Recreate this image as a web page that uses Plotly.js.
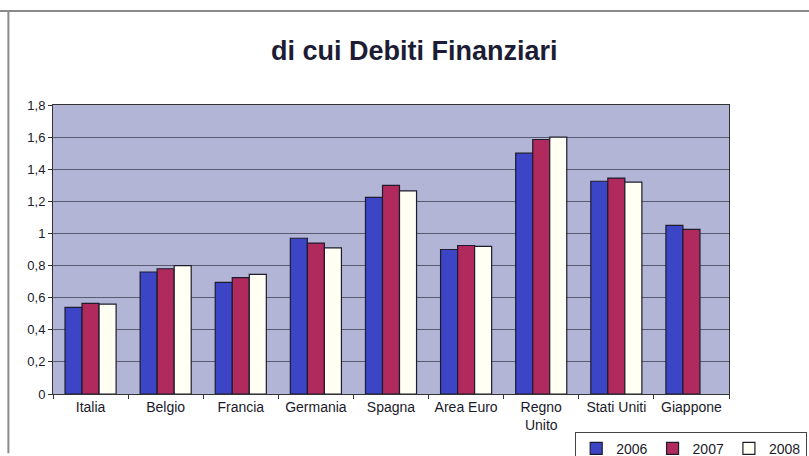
<!DOCTYPE html>
<html>
<head>
<meta charset="utf-8">
<script src="https://cdn.plot.ly/plotly-3.0.1.min.js"></script>
<style>
  body { margin: 0; background: #fff; }
  #chart { width: 809px; height: 456px; }
</style>
</head>
<body>
<div id="chart"></div>
<script>
// categories and values
const paesi = ['Italia', 'Belgio', 'Francia', 'Germania', 'Spagna', 'Area Euro', 'Regno<br>Unito', 'Stati Uniti', 'Giappone'];
const anni = ['2006', '2007', '2008'];
const v2006 = [0.54, 0.76, 0.695, 0.97, 1.225, 0.90, 1.50, 1.325, 1.05];
const v2007 = [0.565, 0.78, 0.725, 0.94, 1.30, 0.925, 1.585, 1.345, 1.025];
const v2008 = [0.56, 0.80, 0.745, 0.91, 1.265, 0.92, 1.60, 1.32, null];

const colori = ['#3b45c6', '#b02a5e', '#fffff4'];
const serie = [v2006, v2007, v2008];

const traces = serie.map((vals, i) => ({
  type: 'bar',
  name: anni[i],
  x: paesi,
  y: vals,
  marker: { color: colori[i], line: { color: '#1c1c2c', width: 1.2 } },
  hoverinfo: 'x+y'
}));

// outer frame of the original slide chart
const frame = { color: '#8a8a8a', width: 2 };

const layout = {
  width: 809,
  height: 456,
  margin: { l: 53, r: 80, t: 105, b: 62, autoexpand: false },
  paper_bgcolor: '#ffffff',
  plot_bgcolor: '#b2b5d6',
  separators: ',.',
  font: { family: 'Liberation Sans Narrow, Arial Narrow, Liberation Sans, Arial, sans-serif', size: 14, color: '#1a1a2a' },
  title: {
    text: '<b>di cui Debiti Finanziari</b>',
    font: { family: 'Liberation Sans, Arial, sans-serif', size: 27, color: '#1c1c34' },
    x: 0.512, xanchor: 'center',
    y: 0.89, yanchor: 'middle'
  },
  barmode: 'group',
  bargap: 0.32,
  bargroupgap: 0,
  xaxis: {
    showline: true, linecolor: '#333', linewidth: 1, mirror: true,
    ticks: 'outside', ticklen: 4, tickcolor: '#333',
    tickson: 'boundaries',
    showgrid: false,
    automargin: false,
    tickfont: { size: 14 }
  },
  yaxis: {
    range: [0, 1.8],
    dtick: 0.2,
    showline: true, linecolor: '#333', linewidth: 1, mirror: true,
    ticks: 'outside', ticklen: 4, tickcolor: '#333',
    gridcolor: '#585a70', gridwidth: 1,
    zeroline: false,
    automargin: false,
    tickfont: { family: 'Liberation Sans, Arial, sans-serif', size: 13 }
  },
  showlegend: true,
  legend: {
    orientation: 'h',
    xref: 'container', yref: 'container',
    x: 0.711, xanchor: 'left',
    y: 0.053, yanchor: 'top',
    bgcolor: '#ffffff',
    bordercolor: '#444', borderwidth: 1,
    font: { family: 'Liberation Sans, Arial, sans-serif', size: 14 },
    traceorder: 'normal',
    itemwidth: 30
  },
  shapes: [
    { type: 'line', xref: 'paper', yref: 'paper', x0: -0.08, x1: 1.2, y0: 1.325, y1: 1.325, line: frame },
    { type: 'line', xref: 'paper', yref: 'paper', x0: -0.066, x1: -0.066, y0: 1.325, y1: -0.205, line: frame }
  ]
};

Plotly.newPlot('chart', traces, layout, { displayModeBar: false, staticPlot: true });
</script>
</body>
</html>
